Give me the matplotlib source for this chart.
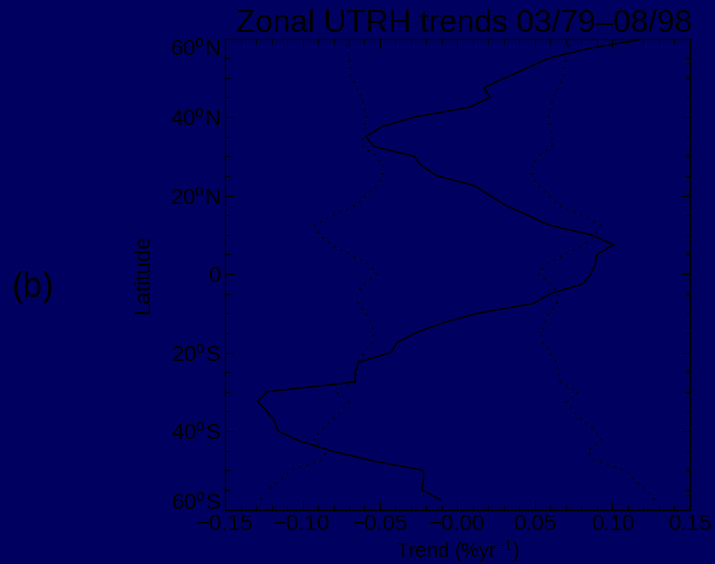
import numpy as np
import matplotlib
matplotlib.use('Agg')
import matplotlib.pyplot as plt
from matplotlib.ticker import MultipleLocator

# zonal UTRH trend (%/yr) and 95% significance level
lat = [-57.5, -55.0, -52.5, -50.0, -47.5, -45.0, -42.5, -40.0, -37.5, -35.0,
       -32.5, -30.0, -27.5, -25.0, -22.5, -20.0, -17.5, -15.0, -12.5, -10.0,
       -7.5, -5.0, -2.5, 0.0, 2.5, 5.0, 7.5, 10.0, 12.5, 15.0,
       17.5, 20.0, 22.5, 25.0, 27.5, 30.0, 32.5, 35.0, 37.5, 40.0,
       42.5, 45.0, 47.5, 50.0, 52.5, 55.0, 57.5, 60.0]
trend = [-0.011, -0.023, -0.022, -0.022, -0.056, -0.082, -0.102, -0.116, -0.118, -0.123,
         -0.129, -0.123, -0.066, -0.066, -0.064, -0.043, -0.039, -0.027, -0.010, 0.013,
         0.049, 0.060, 0.081, 0.086, 0.089, 0.090, 0.101, 0.086, 0.059, 0.045,
         0.031, 0.021, 0.011, -0.013, -0.023, -0.028, -0.054, -0.059, -0.049, -0.028,
         0.008, 0.021, 0.017, 0.031, 0.045, 0.059, 0.085, 0.122]
sig = [0.127, 0.122, 0.114, 0.108, 0.088, 0.084, 0.093, 0.089, 0.081, 0.075,
       0.070, 0.078, 0.066, 0.065, 0.064, 0.060, 0.055, 0.054, 0.056, 0.059,
       0.064, 0.065, 0.060, 0.052, 0.057, 0.069, 0.082, 0.089, 0.092, 0.081,
       0.065, 0.059, 0.052, 0.048, 0.048, 0.052, 0.061, 0.061, 0.060, 0.059,
       0.060, 0.062, 0.065, 0.068, 0.069, 0.070, 0.071, 0.072]

xticks = [-0.15, -0.10, -0.05, 0.0, 0.05, 0.10, 0.15]
xticklabels = ['\u22120.15', '\u22120.10', '\u22120.05', '\u22120.00', '0.05', '0.10', '0.15']
yticks = [-60, -40, -20, 0, 20, 40, 60]
yticklabels = ['60$^o$S', '40$^o$S', '20$^o$S', '0', '20$^o$N', '40$^o$N', '60$^o$N']

bg = '#000060'

plt.rcParams['font.family'] = ['Liberation Sans', 'DejaVu Sans']
plt.rcParams['mathtext.fontset'] = 'custom'
plt.rcParams['mathtext.rm'] = 'Liberation Sans'
plt.rcParams['mathtext.it'] = 'Liberation Sans'
plt.rcParams['mathtext.default'] = 'regular'

fig = plt.figure(figsize=(7.15, 5.64), dpi=100, facecolor=bg)
ax = fig.add_axes([0.3147, 0.0966, 0.6503, 0.8351], facecolor=bg)

sig = np.array(sig)
ax.plot(trend, lat, color='black', linewidth=1.1)
ax.plot(-sig, lat, color='black', linewidth=1.4, linestyle=(0, (0.8, 3)))
ax.plot(sig, lat, color='black', linewidth=1.4, linestyle=(0, (0.8, 3)))

ax.set_xlim(-0.15, 0.15)
ax.set_ylim(-60, 60)
ax.set_xticks(xticks)
ax.set_xticklabels(xticklabels)
ax.set_yticks(yticks)
ax.set_yticklabels(yticklabels)
ax.xaxis.set_minor_locator(MultipleLocator(0.01))
ax.yaxis.set_minor_locator(MultipleLocator(5))

ax.tick_params(which='both', direction='in', top=True, right=True,
               color='black', labelcolor='black', labelsize=16, width=0.8)
ax.tick_params(which='major', length=6.5)
ax.tick_params(which='minor', length=3.3)
ax.tick_params(axis='x', pad=3)
ax.tick_params(axis='y', pad=3)
for s in ax.spines.values():
    s.set_color('black')
    s.set_linewidth(0.9)

# end labels are kept inside the latitude range, as in the original
ylabs = ax.get_yticklabels()
ylabs[0].set_verticalalignment('baseline')
ylabs[-1].set_verticalalignment('top')

ax.set_title('Zonal UTRH trends 03/79\u201308/98', fontsize=22.7, color='black',
             pad=3, x=0.515)
ax.set_xlabel('Trend (%yr$^{\u22121}$)', fontsize=14.5, color='black')
ax.set_ylabel('Latitude', fontsize=16, color='black')
ax.xaxis.set_label_coords(0.5, -0.061)
ax.yaxis.set_label_coords(-0.152, 0.5)

fig.text(0.046, 0.49, '(b)', fontsize=25, color='black', ha='center', va='center')

fig.savefig('out.png', dpi=100, facecolor=bg)
